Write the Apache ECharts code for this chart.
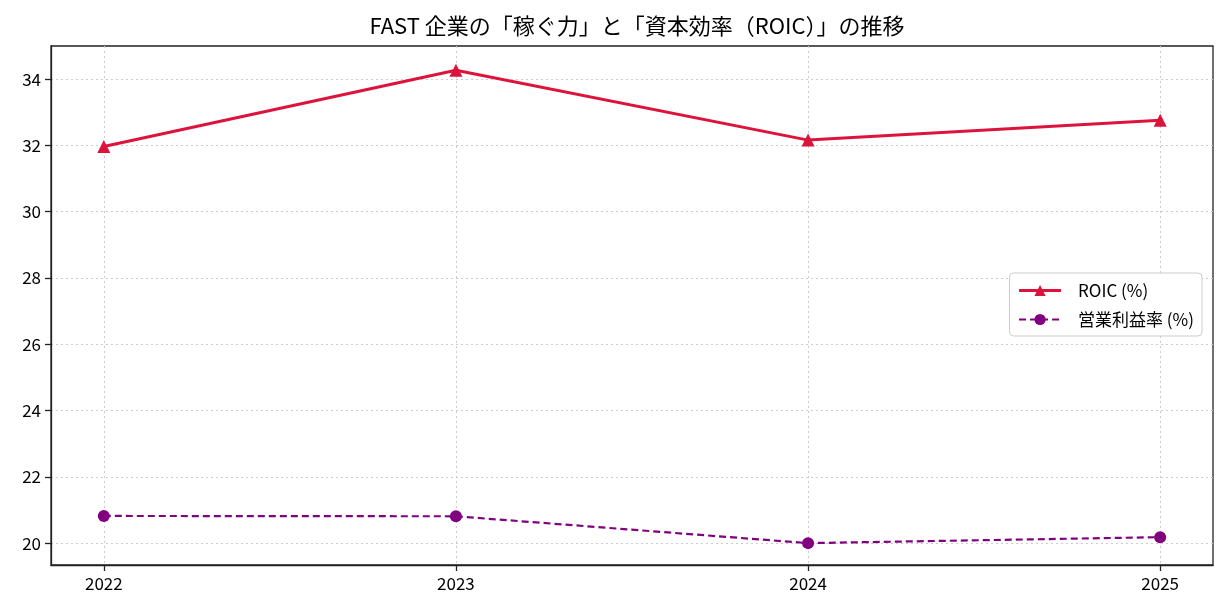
<!DOCTYPE html>
<html>
<head>
<meta charset="utf-8">
<script src="https://cdn.jsdelivr.net/npm/echarts@6/dist/echarts.min.js"></script>
<style>
  html, body { margin: 0; padding: 0; background: #fff; }
  #chart { width: 1228px; height: 616px; }
</style>
</head>
<body>
<div id="chart"></div>
<script>
const years = [2022, 2023, 2024, 2025];
const roic = [31.97, 34.27, 32.16, 32.76];
const opMargin = [20.82, 20.81, 20.0, 20.18];
const yTicks = [20, 22, 24, 26, 28, 30, 32, 34];

const font = '"Liberation Sans Narrow", "Noto Sans CJK JP", sans-serif';

const chart = echarts.init(document.getElementById('chart'));
chart.setOption({
  animation: false,
  textStyle: { fontFamily: font },
  title: {
    text: 'FAST 企業の「稼ぐ力」と「資本効率（ROIC）」の推移',
    left: 632,
    textAlign: 'center',
    top: 10,
    textStyle: { fontFamily: font, fontSize: 22, fontWeight: 'normal', color: '#000' }
  },
  grid: {
    left: 51, right: 15, top: 46, bottom: 51,
    show: true, borderColor: '#222', borderWidth: 1.3, backgroundColor: '#fff'
  },
  legend: {
    right: 26, top: 273, orient: 'vertical',
    backgroundColor: '#fff', borderColor: '#ccc', borderWidth: 1, borderRadius: 4,
    padding: [9, 8, 8, 8], itemGap: 12, itemWidth: 42, itemHeight: 14,
    textStyle: { fontFamily: font, fontSize: 17, color: '#000', padding: [0, 0, 0, 12], width: 140 },
    data: [
      { name: 'ROIC (%)', lineStyle: { width: 3 } },
      { name: '営業利益率 (%)', lineStyle: { width: 2.2 } }
    ]
  },
  xAxis: {
    type: 'value', min: 2021.85, max: 2025.15, interval: 1,
    axisLine: { show: true, lineStyle: { color: '#222', width: 1.3 } },
    axisTick: { show: true, customValues: years, length: 6, lineStyle: { color: '#222', width: 1.3 } },
    axisLabel: { customValues: years, color: '#000', fontSize: 17, margin: 10, fontFamily: font,
      formatter: v => String(v) },
    splitLine: { show: true, lineStyle: { color: '#ccc', type: [2, 3], width: 1 } }
  },
  yAxis: {
    type: 'value', min: 19.34, max: 35.0, interval: 2,
    axisLine: { show: true, lineStyle: { color: '#222', width: 1.3 } },
    axisTick: { show: true, customValues: yTicks, length: 6, lineStyle: { color: '#222', width: 1.3 } },
    axisLabel: { customValues: yTicks, color: '#000', fontSize: 17, margin: 10, fontFamily: font },
    splitLine: { show: true, lineStyle: { color: '#ccc', type: [2, 3], width: 1 } }
  },
  series: [
    {
      name: 'ROIC (%)', type: 'line',
      data: years.map((y, i) => [y, roic[i]]),
      symbol: 'triangle', symbolSize: 13,
      lineStyle: { color: '#dc143c', width: 3 },
      itemStyle: { color: '#dc143c' }
    },
    {
      name: '営業利益率 (%)', type: 'line',
      data: years.map((y, i) => [y, opMargin[i]]),
      symbol: 'circle', symbolSize: 12,
      lineStyle: { color: '#800080', width: 2.2, type: [7, 4] },
      itemStyle: { color: '#800080' }
    }
  ]
});
</script>
</body>
</html>
